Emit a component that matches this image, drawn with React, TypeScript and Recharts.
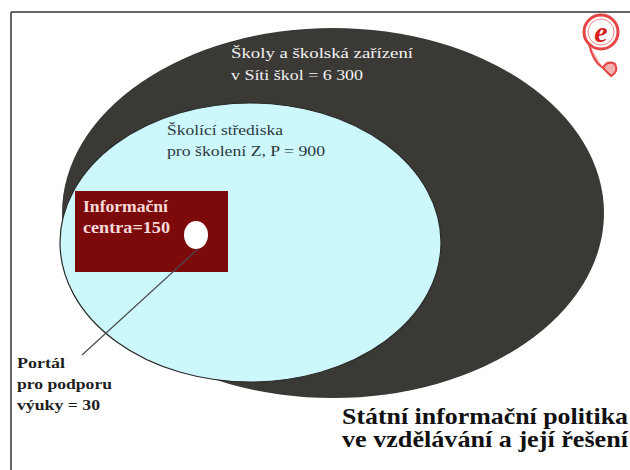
import { ReferenceDot, ReferenceLine, Scatter, ScatterChart, XAxis, YAxis } from "recharts";

const W = 630;
const H = 470;

// nested sets, outermost first (coordinates in picture units)
const setNames = [
  "Školy a školská zařízení",
  "Školící střediska",
  "Informační centra",
  "Portál pro podporu výuky",
];
const setCounts = [6300, 900, 150, 30];
const setKinds = ["ellipse", "ellipse", "rect", "ellipse"];
const setCenterX = [333, 250.5, 151.5, 196];
const setCenterY = [213, 242.5, 231.5, 235];
const setHalfW = [271, 190.5, 76.5, 12];
const setHalfH = [185, 139.5, 40.5, 14];

const fmt = (n: number) => String(n).replace(/\B(?=(\d{3})+(?!\d))/g, " ");

const labelLines = [
  ["Školy a školská zařízení", `v Síti škol = ${fmt(setCounts[0])}`],
  ["Školící střediska", `pro školení Z, P = ${fmt(setCounts[1])}`],
  ["Informační", `centra=${setCounts[2]}`],
  ["Portál", "pro podporu", `výuky = ${setCounts[3]}`],
  ["Státní informační politika", "ve vzdělávání a její řešení"],
];
const labelX = [231, 167, 83, 17, 342];
const labelY = [58, 135, 212, 368, 424];

// pointer from the portal to its caption
const pointer = [
  { x: 198, y: 249 },
  { x: 82, y: 355 },
];

const setFills = ["#3a3935", "#ccf7fb", "#7d0a0a", "#ffffff"];
const setStrokes = ["none", "#2b2b2b", "none", "none"];

const labelStyles = [
  { color: "#f2f2f2", size: 15, weight: 400, lh: 22, widths: [182, 132] },
  { color: "#2e3a40", size: 15, weight: 400, lh: 21, widths: [116, 158] },
  { color: "#f6dada", size: 16, weight: 700, lh: 21, widths: [85, 87] },
  { color: "#1e1e1e", size: 15, weight: 700, lh: 21, widths: [48, 95, 83] },
  { color: "#111111", size: 23, weight: 700, lh: 23, widths: [286, 286] },
];

const serif = '"Liberation Serif", serif';

const setData = setNames.map((name, i) => ({
  name,
  x: setCenterX[i],
  y: setCenterY[i],
  i,
}));

const labelData = labelLines.map((lines, i) => ({ x: labelX[i], y: labelY[i], i, lines }));

const SetShape = (props: any) => {
  const { cx, cy, payload } = props;
  const i = payload.i;
  if (setKinds[i] === "rect") {
    return (
      <rect
        x={cx - setHalfW[i]}
        y={cy - setHalfH[i]}
        width={setHalfW[i] * 2}
        height={setHalfH[i] * 2}
        fill={setFills[i]}
      />
    );
  }
  return (
    <ellipse
      cx={cx}
      cy={cy}
      rx={setHalfW[i]}
      ry={setHalfH[i]}
      fill={setFills[i]}
      stroke={setStrokes[i]}
      strokeWidth={1.2}
    />
  );
};

const LabelShape = (props: any) => {
  const { cx, cy, payload } = props;
  const s = labelStyles[payload.i];
  return (
    <g>
      {payload.lines.map((t: string, k: number) => (
        <text
          key={k}
          x={cx}
          y={cy + k * s.lh}
          fill={s.color}
          style={{ fontFamily: serif, fontSize: s.size, fontWeight: s.weight }}
          textLength={s.widths[k]}
          lengthAdjust="spacingAndGlyphs"
        >
          {t}
        </text>
      ))}
    </g>
  );
};

const LogoShape = (props: any) => {
  const { cx, cy } = props;
  return (
    <g>
      <circle cx={cx} cy={cy} r={17} fill="none" stroke="#e54545" strokeWidth={3} />
      <circle cx={cx} cy={cy} r={13} fill="none" stroke="#f08a8a" strokeWidth={1} />
      <text
        x={cx}
        y={cy + 10}
        textAnchor="middle"
        fill="#d91f1f"
        style={{ fontFamily: serif, fontSize: 30, fontStyle: "italic", fontWeight: 700 }}
      >
        e
      </text>
      <path
        d={`M ${cx - 12} ${cy + 12} Q ${cx - 8} ${cy + 30} ${cx + 2} ${cy + 36} L ${cx + 10} ${cy + 44} Q ${cx + 18} ${cy + 40} ${cx + 14} ${cy + 32} Q ${cx + 6} ${cy + 28} ${cx + 2} ${cy + 36}`}
        fill="#f3b0b0"
        stroke="#e54545"
        strokeWidth={2}
      />
    </g>
  );
};

const NoDot = () => <g />;

export default function App() {
  return (
    <div style={{ position: "absolute", left: 0, top: 0, width: W, height: H, background: "#fff" }}>
      <ScatterChart width={W} height={H} margin={{ top: 0, right: 0, bottom: 0, left: 0 }}>
        <XAxis type="number" dataKey="x" domain={[0, W]} hide />
        <YAxis type="number" dataKey="y" domain={[0, H]} reversed hide />
        <Scatter data={setData} shape={SetShape} isAnimationActive={false} />
        <Scatter
          data={pointer}
          line={{ stroke: "#4a4a4a", strokeWidth: 1.2 }}
          shape={NoDot}
          isAnimationActive={false}
        />
        <Scatter data={labelData} shape={LabelShape} isAnimationActive={false} />
        <ReferenceLine segment={[{ x: 11, y: 12 }, { x: W, y: 12 }]} stroke="#333" strokeWidth={1.5} />
        <ReferenceLine segment={[{ x: 11, y: 12 }, { x: 11, y: H }]} stroke="#333" strokeWidth={1.5} />
        <ReferenceDot x={601} y={32} r={17} shape={LogoShape} />
      </ScatterChart>
    </div>
  );
}
